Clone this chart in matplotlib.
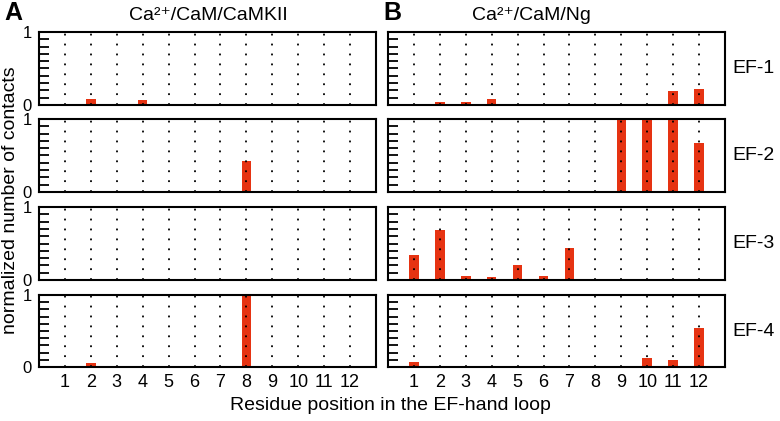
import matplotlib
matplotlib.use("Agg")
import matplotlib.pyplot as plt
import numpy as np

plt.rcParams["font.family"] = ["Liberation Sans", "DejaVu Sans"]

# data
positions = list(range(1, 13))
loops = ["EF-1", "EF-2", "EF-3", "EF-4"]

camkii_ef1 = [0, 0.08, 0, 0.075, 0, 0, 0, 0.02, 0, 0, 0, 0]
camkii_ef2 = [0, 0, 0, 0, 0, 0, 0, 0.43, 0, 0, 0, 0]
camkii_ef3 = [0, 0, 0, 0, 0, 0, 0, 0, 0, 0, 0, 0]
camkii_ef4 = [0, 0.06, 0, 0, 0, 0, 0, 1.0, 0, 0, 0, 0]

ng_ef1 = [0, 0.035, 0.04, 0.08, 0, 0, 0, 0, 0, 0, 0.195, 0.225]
ng_ef2 = [0, 0, 0, 0, 0, 0, 0, 0, 1.0, 1.0, 1.0, 0.67]
ng_ef3 = [0.34, 0.69, 0.05, 0.037, 0.21, 0.05, 0.44, 0, 0, 0, 0, 0.02]
ng_ef4 = [0.065, 0, 0, 0, 0, 0, 0, 0, 0, 0.12, 0.10, 0.54]

camkii = [camkii_ef1, camkii_ef2, camkii_ef3, camkii_ef4]
ng = [ng_ef1, ng_ef2, ng_ef3, ng_ef4]

W, H = 780, 421
fig = plt.figure(figsize=(W / 100, H / 100), dpi=100)

rows = [(32, 105), (119, 192), (207, 280), (295, 367)]
cols = [(39, 376), (388, 725)]
bar_color = "#e63312"


def setup(ax, vals, left, bottom):
    ax.bar(positions, vals, width=0.37, color=bar_color, zorder=2)
    ax.vlines(positions, 0, 1, colors="black", linestyles=(0, (1, 4.5)),
              linewidth=1.3, zorder=3)
    ax.set_xlim(0, 13)
    ax.set_ylim(0, 1)
    for s in ax.spines.values():
        s.set_linewidth(1.5)
    ax.set_yticks([0, 0.2, 0.4, 0.6, 0.8, 1.0])
    ax.set_yticks(np.arange(0.1, 1.0, 0.2), minor=True)
    ax.tick_params(axis="y", which="major", direction="in", length=7, width=1.3,
                   labelsize=12, pad=5)
    ax.tick_params(axis="y", which="minor", direction="in", length=7, width=1.3)
    if left:
        ax.set_yticklabels(["0", "", "", "", "", "1"])
    else:
        ax.set_yticklabels([])
    ax.set_xticks(positions)
    ax.tick_params(axis="x", length=0, labelsize=13, pad=5)
    if not bottom:
        ax.set_xticklabels([])


for r, (top, bot) in enumerate(rows):
    for c, (x0, x1) in enumerate(cols):
        ax = fig.add_axes([x0 / W, 1 - bot / H, (x1 - x0) / W, (bot - top) / H])
        data = camkii if c == 0 else ng
        setup(ax, data[r], c == 0, r == 3)
    fig.text(732 / W, 1 - (top + bot) / 2 / H, loops[r], fontsize=14,
             va="center", ha="left")

fig.text(4 / W, 1 - 13 / H, "A", fontsize=18, fontweight="bold", va="center")
fig.text(383 / W, 1 - 13 / H, "B", fontsize=18, fontweight="bold", va="center")
fig.text(208 / W, 1 - 15 / H, "Ca²⁺/CaM/CaMKII", fontsize=14,
         ha="center", va="center")
fig.text(531 / W, 1 - 15 / H, "Ca²⁺/CaM/Ng", fontsize=14,
         ha="center", va="center")
fig.text(11 / W, 1 - 200 / H, "normalized number of contacts", fontsize=14,
         rotation=90, ha="center", va="center")
fig.text(390 / W, 1 - 405 / H, "Residue position in the EF-hand loop",
         fontsize=14, ha="center", va="center")

fig.savefig("out.png", dpi=100)
